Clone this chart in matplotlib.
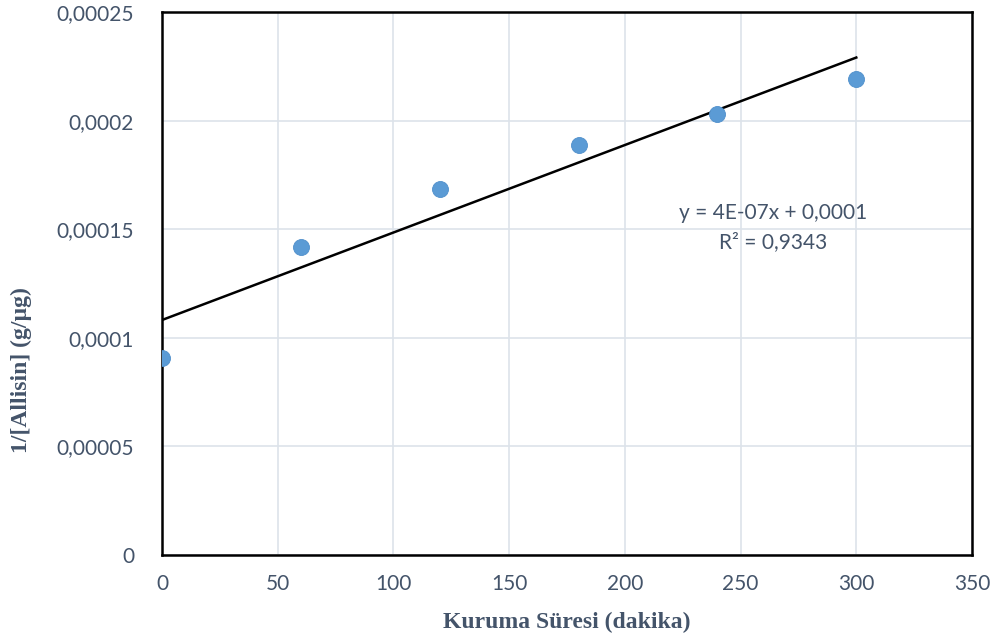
import matplotlib
matplotlib.use('Agg')
from matplotlib import pyplot as plt
import numpy as np

# Drying time [min] and inverse allicin concentration [g/ug]
kuruma = np.array([0, 60, 120, 180, 240, 300])
ters_allisin = np.array([9.07e-5, 1.418e-4, 1.685e-4, 1.888e-4, 2.030e-4, 2.192e-4])

x_ticks = [0, 50, 100, 150, 200, 250, 300, 350]
y_ticks = [0, 0.00005, 0.0001, 0.00015, 0.0002, 0.00025]
y_labels = ['0', '0,00005', '0,0001', '0,00015', '0,0002', '0,00025']

eq_line = 'y = 4E-07x + 0,0001'
r2_line = 'R² = 0,9343'

tick_color = '#44546A'
label_font = 'Liberation Serif'
tick_font = ['Lato', 'DejaVu Sans']

fig = plt.figure(figsize=(10, 6.43), dpi=100)
ax = fig.add_axes([0.162, 0.137, 0.810, 0.844])

# linear trendline over the measured range
slope, intercept = np.polyfit(kuruma, ters_allisin, 1)
x_fit = np.array([kuruma.min(), kuruma.max()])
ax.plot(x_fit, slope * x_fit + intercept, color='black', lw=1.8, zorder=3)

ax.plot(kuruma, ters_allisin, 'o', color='#5B9BD5', markersize=11.5,
        markeredgecolor='#4F8FCB', markeredgewidth=0.6, zorder=4)

ax.text(264, 1.575e-4, eq_line, ha='center', va='center', fontsize=15,
        color=tick_color, family=tick_font)
ax.text(264, 1.441e-4, r2_line, ha='center', va='center', fontsize=15,
        color=tick_color, family=tick_font)

ax.set_xlim(0, 350)
ax.set_ylim(0, 0.00025)
ax.set_xticks(x_ticks)
ax.set_yticks(y_ticks)
ax.set_yticklabels(y_labels)

ax.grid(True, color='#DDE3EA', lw=1.2, zorder=0)
ax.set_axisbelow(True)
for s in ax.spines.values():
    s.set_color('black')
    s.set_linewidth(1.8)

ax.tick_params(length=0, labelsize=15, labelcolor=tick_color)
ax.tick_params(axis='x', pad=14)
ax.tick_params(axis='y', pad=20)
for lbl in ax.get_xticklabels() + ax.get_yticklabels():
    lbl.set_family(tick_font)

ax.set_xlabel('Kuruma Süresi (dakika)', fontsize=17, fontweight='bold',
              family=label_font, color=tick_color)
ax.set_ylabel('1/[Allisin] (g/µg)', fontsize=17, fontweight='bold',
              family=label_font, color=tick_color)
ax.xaxis.set_label_coords(0.5, -0.105)
ax.yaxis.set_label_coords(-0.160, 0.34)

fig.savefig('out.png', dpi=100)
